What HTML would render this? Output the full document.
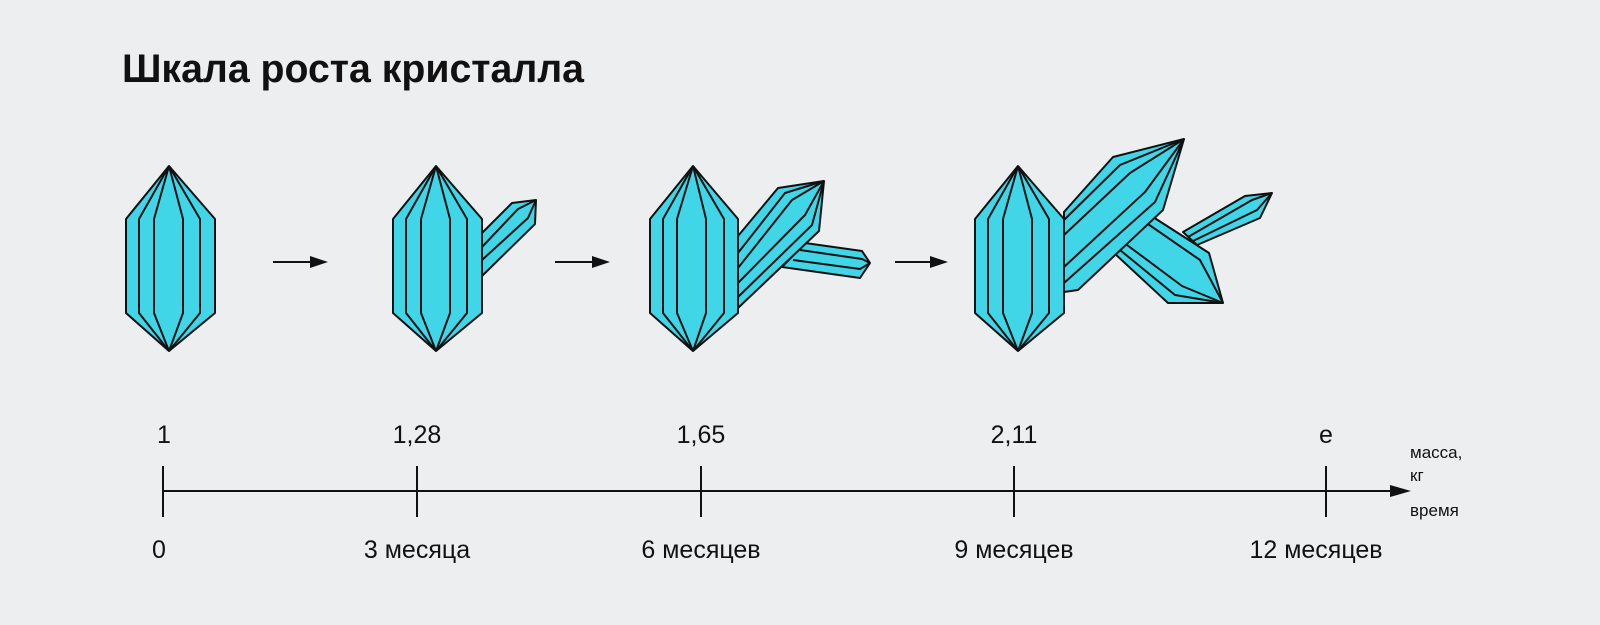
<!DOCTYPE html>
<html><head><meta charset="utf-8"><style>
html,body{margin:0;padding:0;background:#edeef0;}
svg{display:block}
text{font-family:"Liberation Sans","DejaVu Sans",sans-serif;fill:#111}
</style></head><body>
<svg width="1600" height="625" viewBox="0 0 1600 625" xmlns="http://www.w3.org/2000/svg">
<rect width="1600" height="625" fill="#edeef0"/>
<text x="122" y="82" font-size="40" font-weight="bold" textLength="462" lengthAdjust="spacingAndGlyphs">Шкала роста кристалла</text>

<g fill="#40d6e8" stroke="#111" stroke-width="2" stroke-linejoin="round">
<!-- crystal 1 -->
<polygon points="169,166 215,219 215,313 169,351 126,313 126,219"/>
<polyline fill="none" points="169,166 139,219 139,313 169,351"/>
<polyline fill="none" points="169,166 154,219 154,313 169,351"/>
<polyline fill="none" points="169,166 183,219 183,313 169,351"/>
<polyline fill="none" points="169,166 200,219 200,313 169,351"/>

<!-- crystal 2 branch -->
<polygon points="482,233 512,203 536,200 535,224 482,276"/>
<polyline fill="none" points="482,247 518,209 536,200"/>
<polyline fill="none" points="482,260 528,218 536,200"/>
<!-- crystal 2 -->
<polygon points="436,166 482,219 482,313 436,351 393,313 393,219"/>
<polyline fill="none" points="436,166 406,219 406,313 436,351"/>
<polyline fill="none" points="436,166 421,219 421,313 436,351"/>
<polyline fill="none" points="436,166 450,219 450,313 436,351"/>
<polyline fill="none" points="436,166 467,219 467,313 436,351"/>

<!-- crystal 3 side branch -->
<polygon points="805,243 862,251 870,263 860,278 782,267"/>
<polyline fill="none" points="800,250 862,259 870,263"/>
<polyline fill="none" points="793,260 860,269 870,263"/>
<!-- crystal 3 big branch -->
<polygon points="738,236 778,188 824,181 819,231 738,308"/>
<polyline fill="none" points="738,253 785,193 824,181"/>
<polyline fill="none" points="738,268 792,200 824,181"/>
<polyline fill="none" points="738,283 805,215 824,181"/>
<polyline fill="none" points="738,297 812,225 824,181"/>
<!-- crystal 3 -->
<polygon points="693,166 738,219 738,313 693,351 650,313 650,219"/>
<polyline fill="none" points="693,166 663,219 663,313 693,351"/>
<polyline fill="none" points="693,166 677,219 677,313 693,351"/>
<polyline fill="none" points="693,166 706,219 706,313 693,351"/>
<polyline fill="none" points="693,166 724,219 724,313 693,351"/>

<!-- crystal 4 thin branch -->
<polygon points="1183,232 1245,196 1272,193 1260,218 1197,245"/>
<polyline fill="none" points="1188,237 1252,200 1272,193"/>
<polyline fill="none" points="1193,241 1257,210 1272,193"/>
<!-- crystal 4 second branch -->
<polygon points="1153,217 1209,253 1223,303 1168,303 1113,252"/>
<polyline fill="none" points="1145,222 1200,260 1223,303"/>
<polyline fill="none" points="1127,245 1182,286 1223,303"/>
<polyline fill="none" points="1120,250 1175,295 1223,303"/>
<!-- crystal 4 big branch -->
<polygon points="1064,212 1113,157 1184,139 1163,210 1078,290 1064,292"/>
<polyline fill="none" points="1064,220 1120,165 1184,139"/>
<polyline fill="none" points="1064,235 1130,173 1184,139"/>
<polyline fill="none" points="1064,267 1145,192 1184,139"/>
<polyline fill="none" points="1064,283 1155,202 1184,139"/>
<!-- crystal 4 -->
<polygon points="1018,166 1064,219 1064,313 1018,351 975,313 975,219"/>
<polyline fill="none" points="1018,166 988,219 988,313 1018,351"/>
<polyline fill="none" points="1018,166 1003,219 1003,313 1018,351"/>
<polyline fill="none" points="1018,166 1032,219 1032,313 1018,351"/>
<polyline fill="none" points="1018,166 1049,219 1049,313 1018,351"/>
</g>

<!-- arrows -->
<g stroke="#111" stroke-width="2" fill="#111">
<line x1="273" y1="262" x2="312" y2="262"/><polygon stroke="none" points="310,256 328,262 310,268"/>
<line x1="555" y1="262" x2="594" y2="262"/><polygon stroke="none" points="592,256 610,262 592,268"/>
<line x1="895" y1="262" x2="932" y2="262"/><polygon stroke="none" points="930,256 948,262 930,268"/>
</g>

<!-- axis -->
<g stroke="#111" stroke-width="2">
<line x1="163" y1="491" x2="1395" y2="491"/>
<line x1="163" y1="466" x2="163" y2="517"/>
<line x1="417" y1="466" x2="417" y2="517"/>
<line x1="701" y1="466" x2="701" y2="517"/>
<line x1="1014" y1="466" x2="1014" y2="517"/>
<line x1="1326" y1="466" x2="1326" y2="517"/>
</g>
<polygon fill="#111" points="1390,485 1411,491 1390,497"/>

<g font-size="25">
<text x="157" y="443">1</text>
<text x="417" y="443" text-anchor="middle">1,28</text>
<text x="701" y="443" text-anchor="middle">1,65</text>
<text x="1014" y="443" text-anchor="middle">2,11</text>
<text x="1326" y="443" text-anchor="middle">e</text>
<text x="152" y="558">0</text>
<text x="417" y="558" text-anchor="middle">3 месяца</text>
<text x="701" y="558" text-anchor="middle">6 месяцев</text>
<text x="1014" y="558" text-anchor="middle">9 месяцев</text>
<text x="1316" y="558" text-anchor="middle">12 месяцев</text>
</g>
<g font-size="17">
<text x="1410" y="458">масса,</text>
<text x="1410" y="481">кг</text>
<text x="1410" y="516">время</text>
</g>
</svg>
</body></html>
